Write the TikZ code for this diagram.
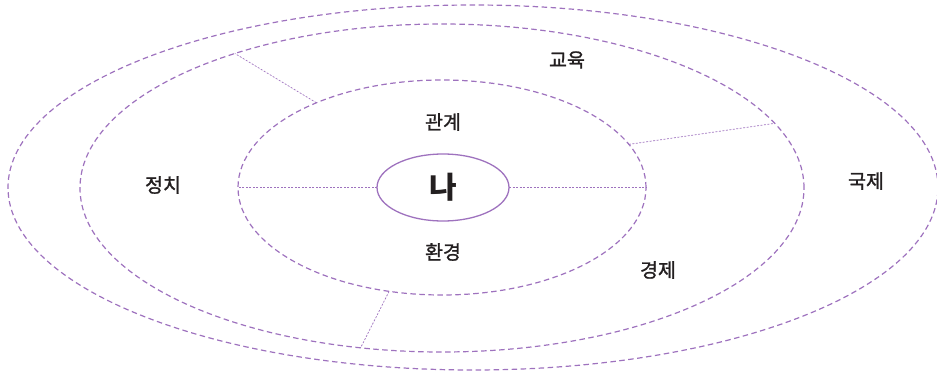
\documentclass[tikz,border=0pt]{standalone}
\usepackage{fontspec}
\setmainfont{Noto Sans CJK KR}
\newfontfamily\lblfont[FakeBold=1.2]{Noto Sans CJK KR}
\usetikzlibrary{shapes.geometric}
\definecolor{lav}{RGB}{158,114,190}
\definecolor{txt}{RGB}{35,31,32}
\tikzset{
  ring/.style={draw=lav, shape=ellipse, inner sep=0pt, outer sep=0pt, line width=1.2pt, dash pattern=on 5.5pt off 3.5pt},
  spoke/.style={draw=lav, line width=0.7pt, dash pattern=on 2pt off 1.5pt},
  lbl/.style={text=txt, font=\lblfont\fontsize{19.5}{21}\selectfont, inner sep=0pt},
}
\begin{document}
\begin{tikzpicture}[x=1pt,y=-1pt]
\useasboundingbox (0,0) rectangle (937,372);
\node[ring, minimum width=930pt, minimum height=365pt] (outer) at (473,187.5) {};
\node[ring, minimum width=724pt, minimum height=328pt] (mid) at (442,188) {};
\node[ring, minimum width=408pt, minimum height=215pt] (inner) at (442,187.5) {};
\node[draw=lav, shape=ellipse, inner sep=0pt, outer sep=0pt, line width=1.3pt, minimum width=132pt, minimum height=67pt] (me) at (443,187.5) {};
\node[text=txt, font=\fontsize{30}{32}\selectfont\bfseries] at (me.center) {나};
\draw[spoke] (me.west) -- (inner.west);
\draw[spoke] (me.east) -- (inner.east);
\draw[spoke] (inner.146) -- (mid.147.5);
\draw[spoke] (inner.13.5) -- (mid.11.5);
\draw[spoke] (inner.243.3) -- (mid.243);
\node[lbl] (gy) at (567,60) {교육};
\node[lbl] (gw) at (443,122) {관계};
\node[lbl] (jc) at (163,185) {정치};
\node[lbl] (gj) at (866,181) {국제};
\node[lbl] (hg) at (443,252) {환경};
\node[lbl] (gje) at (658,270) {경제};
\end{tikzpicture}
\end{document}
